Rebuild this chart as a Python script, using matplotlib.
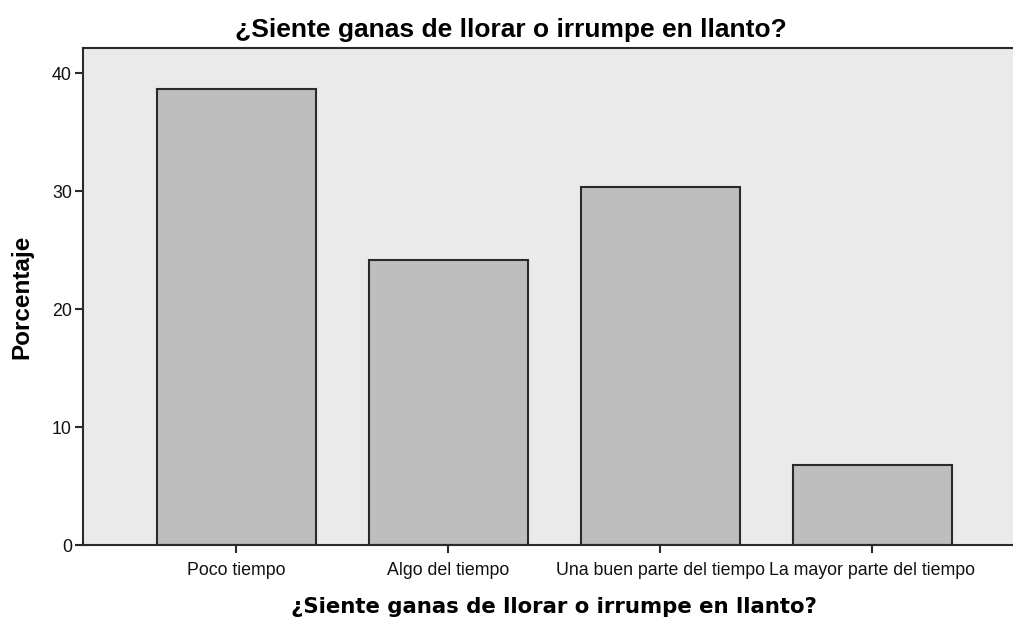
import matplotlib
matplotlib.use("Agg")
import matplotlib.pyplot as plt

# Data
categorias = ["Poco tiempo", "Algo del tiempo", "Una buen parte del tiempo", "La mayor parte del tiempo"]
porcentajes = [38.7, 24.2, 30.4, 6.8]
y_ticks = [0, 10, 20, 30, 40]
titulo = "¿Siente ganas de llorar o irrumpe en llanto?"

plt.rcParams['font.family'] = ['Liberation Sans', 'DejaVu Sans']

fig = plt.figure(figsize=(10.13, 6.18), dpi=100)
ax = fig.add_axes([83 / 1013, 1 - 545 / 618, 1 - 83 / 1013, (545 - 48) / 618])
ax.set_facecolor('#eaeaea')

x = list(range(len(categorias)))
ax.bar(x, porcentajes, width=0.75, color='#bebebe', edgecolor='#2a2a2a', linewidth=1.5, zorder=2)

ax.set_xlim(-0.722, 3.663)
ax.set_ylim(0, 40 * (545 - 48) / (545 - 73.3))
ax.set_yticks(y_ticks)
ax.set_xticks(x)
ax.set_xticklabels(categorias)

for s in ['left', 'bottom', 'top']:
    ax.spines[s].set_color('#2a2a2a')
    ax.spines[s].set_linewidth(1.5)
ax.spines['right'].set_visible(False)

ax.tick_params(axis='both', direction='out', length=6, width=1.5, color='#2a2a2a',
               labelsize=12.8, labelcolor='#111111', pad=2)
ax.tick_params(axis='x', pad=6)

ax.set_ylabel("Porcentaje", fontsize=17.5, fontweight='bold')
ax.yaxis.set_label_coords(-(83 - 22) / 930, 0.5)
ax.yaxis.label.set_va('center')
ax.set_xlabel(titulo, fontsize=15.3, fontweight='bold', family=['DejaVu Sans'])
ax.xaxis.set_label_coords((554 - 83) / 930, -(607 - 545) / 497)
ax.xaxis.label.set_va('center')
fig.text(511 / 1013, 1 - 30 / 618, titulo, ha='center', va='center', fontsize=19, fontweight='bold')

fig.savefig("out.png", dpi=100)
